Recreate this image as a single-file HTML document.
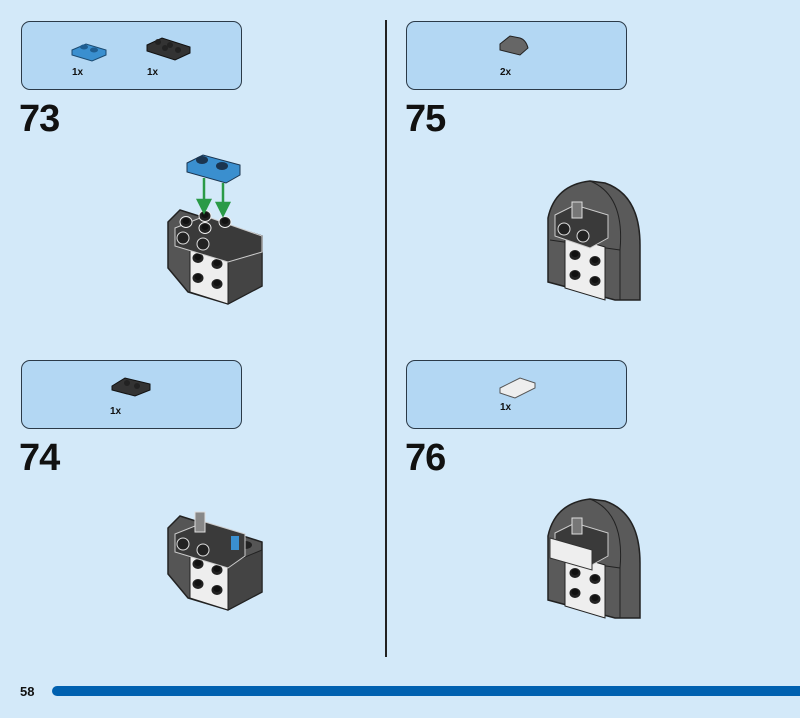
<!DOCTYPE html>
<html><head><style>
html,body{margin:0;padding:0}
body{width:800px;height:718px;background:#d3e9f9;position:relative;overflow:hidden;font-family:"Liberation Sans",sans-serif}
.box{position:absolute;width:219px;height:67px;background:#b3d7f3;border:1.5px solid #2b3a48;border-radius:9px}
.num{position:absolute;font-size:38px;font-weight:bold;color:#111;letter-spacing:-1px}
.q{position:absolute;font-size:10px;font-weight:bold;color:#111}
</style></head><body>
<div class="box" style="left:21px;top:21px"></div>
<div class="box" style="left:406px;top:21px"></div>
<div class="box" style="left:21px;top:360px"></div>
<div class="box" style="left:406px;top:360px"></div>
<div class="num" style="left:19px;top:98px">73</div>
<div class="num" style="left:405px;top:98px">75</div>
<div class="num" style="left:19px;top:437px">74</div>
<div class="num" style="left:405px;top:437px">76</div>
<div class="q" style="left:72px;top:67px">1x</div>
<div class="q" style="left:147px;top:67px">1x</div>
<div class="q" style="left:500px;top:67px">2x</div>
<div class="q" style="left:110px;top:406px">1x</div>
<div class="q" style="left:500px;top:402px">1x</div>
<div style="position:absolute;left:385px;top:20px;width:1.5px;height:637px;background:#222"></div>
<div style="position:absolute;left:52px;top:686px;width:760px;height:10px;background:#0061b0;border-radius:5px"></div>
<div style="position:absolute;left:20px;top:684px;font-size:13px;font-weight:bold;color:#111">58</div>
<svg width="800" height="718" style="position:absolute;left:0;top:0">
<defs>
<g id="stud"><ellipse cx="0" cy="0" rx="6" ry="5.5" fill="#222" stroke="#eee" stroke-width="1"/><ellipse cx="0" cy="-1" rx="3.5" ry="3" fill="#111"/></g>
<g id="base">
 <polygon points="168,222 180,210 262,236 262,286 228,304 188,292 168,268" fill="#555" stroke="#222" stroke-width="1.5"/>
 <polygon points="190,246 228,258 228,304 190,292" fill="#eee" stroke="#222"/>
 <use href="#stud" x="198" y="258"/><use href="#stud" x="217" y="264"/>
 <use href="#stud" x="198" y="278"/><use href="#stud" x="217" y="284"/>
 <polygon points="228,258 262,244 262,286 228,304" fill="#444" stroke="#222"/>
 <ellipse cx="245" cy="239" rx="7" ry="4" fill="#222"/>
</g>
<g id="round">
 <path d="M548,218 Q555,185 590,181 L605,183 Q640,195 640,245 L640,300 L615,300 L548,282 Z" fill="#5a5a5a" stroke="#222" stroke-width="1.5"/>
 <path d="M590,181 Q625,195 620,250 L620,300" fill="none" stroke="#222"/>
 <line x1="550" y1="240" x2="620" y2="250" stroke="#222"/>
 <polygon points="565,235 605,247 605,300 565,288" fill="#eee" stroke="#222"/>
 <use href="#stud" x="575" y="255"/><use href="#stud" x="595" y="261"/>
 <use href="#stud" x="575" y="275"/><use href="#stud" x="595" y="281"/>
</g>
</defs>
<!-- parts box icons -->
<polygon points="72,50 86,44 106,50 106,55 92,61 72,55" fill="#3a8fcf" stroke="#1b4a70"/>
<ellipse cx="84" cy="47" rx="4" ry="2.5" fill="#1f5d90"/><ellipse cx="94" cy="50" rx="4" ry="2.5" fill="#1f5d90"/>
<polygon points="147,45 162,38 190,47 190,53 175,60 147,51" fill="#333" stroke="#111"/>
<circle cx="158" cy="42" r="3" fill="#222"/><circle cx="170" cy="45" r="3" fill="#222"/><circle cx="165" cy="48" r="3" fill="#222"/><circle cx="178" cy="50" r="3" fill="#222"/>
<path d="M500,44 L510,36 L520,38 Q526,40 528,48 L520,55 L500,50 Z" fill="#666" stroke="#222"/>
<polygon points="112,386 125,378 150,384 150,390 135,396 112,390" fill="#333" stroke="#111"/>
<circle cx="127" cy="383" r="3" fill="#222"/><circle cx="137" cy="386" r="3" fill="#222"/>
<polygon points="500,388 520,378 535,383 535,388 515,398 500,393" fill="#eee" stroke="#555"/>
<!-- step 73 -->
<use href="#base"/>
<polygon points="175,228 205,216 262,236 262,252 228,262 175,246" fill="#3a3a3a" stroke="#ccc" stroke-width="1"/>
<use href="#stud" x="186" y="222"/><use href="#stud" x="205" y="216"/><use href="#stud" x="205" y="228"/><use href="#stud" x="225" y="222"/>
<circle cx="183" cy="238" r="6" fill="#222" stroke="#ddd"/><circle cx="203" cy="244" r="6" fill="#222" stroke="#ddd"/>
<polygon points="187,163 203,155 240,165 240,175 226,183 187,172" fill="#3a8fcf" stroke="#1b3550"/>
<ellipse cx="202" cy="160" rx="6" ry="4" fill="#1b3550"/><ellipse cx="222" cy="166" rx="6" ry="4" fill="#1b3550"/>
<g stroke="#2a9a47" stroke-width="2.5" fill="#2a9a47">
<line x1="204" y1="178" x2="204" y2="202"/><polygon points="198,200 210,200 204,212"/>
<line x1="223" y1="183" x2="223" y2="205"/><polygon points="217,203 229,203 223,215"/>
</g>
<!-- step 74 -->
<g transform="translate(0,306)"><use href="#base"/>
<polygon points="175,228 205,216 245,228 245,250 228,262 175,246" fill="#3a3a3a" stroke="#ccc"/>
<circle cx="183" cy="238" r="6" fill="#222" stroke="#ddd"/><circle cx="203" cy="244" r="6" fill="#222" stroke="#ddd"/>
<rect x="195" y="206" width="10" height="20" fill="#888" stroke="#ddd"/>
<rect x="231" y="230" width="8" height="14" fill="#3a8fcf"/>
</g>
<!-- step 75 -->
<use href="#round"/>
<polygon points="555,215 575,205 608,215 608,238 590,248 555,236" fill="#3a3a3a" stroke="#ccc"/>
<circle cx="564" cy="229" r="6" fill="#222" stroke="#ddd"/><circle cx="583" cy="236" r="6" fill="#222" stroke="#ddd"/>
<rect x="572" y="202" width="10" height="16" fill="#777" stroke="#ddd"/>
<!-- step 76 -->
<g transform="translate(0,318)"><use href="#round"/>
<polygon points="555,215 575,205 608,215 608,238 590,248 555,236" fill="#3a3a3a" stroke="#ccc"/>
<rect x="572" y="200" width="10" height="16" fill="#777" stroke="#ddd"/>
<polygon points="550,220 592,232 592,252 550,240" fill="#eee" stroke="#333"/>
</g>
</svg>
</body></html>
